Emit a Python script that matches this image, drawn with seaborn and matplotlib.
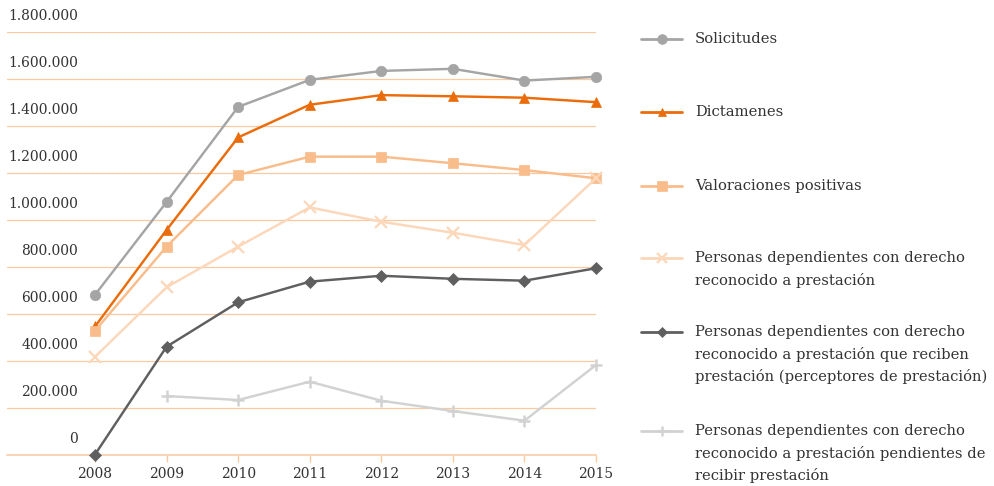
import numpy as np
import pandas as pd
import matplotlib
matplotlib.use("Agg")
import matplotlib.pyplot as plt
from matplotlib.lines import Line2D
from matplotlib.transforms import ScaledTranslation
import seaborn as sns

# ---- data -------------------------------------------------------------
years = [2008, 2009, 2010, 2011, 2012, 2013, 2014, 2015]

solicitudes = [680000, 1075000, 1480000, 1595000, 1633000, 1642000, 1592000, 1608000]
dictamenes = [545000, 956000, 1350000, 1489000, 1530000, 1525000, 1519000, 1500000]
valoraciones = [527000, 885000, 1190000, 1268000, 1268000, 1240000, 1211000, 1176000]
con_derecho = [416000, 712000, 885000, 1052000, 991000, 944000, 892000, 1176000]
perceptores = [0, 459000, 648000, 736000, 761000, 748000, 740000, 793000]
pendientes = [np.nan, 249000, 232000, 310000, 229000, 185000, 144000, 381000]

series_labels = [
    "Solicitudes",
    "Dictamenes",
    "Valoraciones positivas",
    "Personas dependientes con derecho\nreconocido a prestación",
    "Personas dependientes con derecho\nreconocido a prestación que reciben\nprestación (perceptores de prestación)",
    "Personas dependientes con derecho\nreconocido a prestación pendientes de\nrecibir prestación",
]
series_values = [solicitudes, dictamenes, valoraciones, con_derecho, perceptores, pendientes]

y_ticks = [0, 200000, 400000, 600000, 800000, 1000000, 1200000, 1400000, 1600000, 1800000]
y_tick_labels = [f"{v:,}".replace(",", ".") for v in y_ticks]

# ---- styling ----------------------------------------------------------
colors = ["#A5A5A5", "#EA6C0B", "#F9BC8B", "#FCD7BA", "#5F5F5F", "#D2D2D2"]
markers = ["o", "^", "s", "x", "D", "+"]
msizes = [7.5, 7.5, 7.5, 8, 6.5, 9]
mews = [0.5, 0.5, 0.5, 1.6, 0.5, 1.8]
legend_msizes = [7, 6, 7, 6.5, 5.5, 7.5]

grid_color = "#F9CAA2"
text_color = "#333333"

sns.set_style("white")
plt.rcParams["font.family"] = ["DejaVu Serif"]
plt.rcParams["font.size"] = 10

W, H = 995, 486
fig = plt.figure(figsize=(W / 100, H / 100), dpi=100)

def fx(px):
    return px / W

def fy(py):
    return 1 - py / H

ax_left, ax_right, ax_top, ax_bottom = 7, 596, 31.7, 454.5
ax = fig.add_axes([fx(ax_left), fy(ax_bottom), fx(ax_right - ax_left), (ax_bottom - ax_top) / H])

df = pd.DataFrame({"year": years})
for label, vals in zip(series_labels, series_values):
    df[label] = vals

for i, label in enumerate(series_labels):
    sub = df[["year", label]].dropna()
    sns.lineplot(
        data=sub, x="year", y=label, ax=ax, color=colors[i], linewidth=1.75,
        marker=markers[i], markersize=msizes[i], markeredgecolor=colors[i],
        markerfacecolor=colors[i], markeredgewidth=mews[i], legend=False,
        clip_on=False, zorder=3 + i,
    )

ax.set_xlim(years[0] - 1.23, years[-1])
ax.set_ylim(0, 1800000)
ax.set_xlabel("")
ax.set_ylabel("")

for s in ["top", "right", "left"]:
    ax.spines[s].set_visible(False)
ax.spines["bottom"].set_color(grid_color)
ax.spines["bottom"].set_linewidth(1.1)

ax.set_yticks(y_ticks)
ax.set_yticklabels(y_tick_labels)
ax.grid(axis="y", color=grid_color, linewidth=0.9)
ax.grid(axis="x", visible=False)
ax.set_axisbelow(True)

ax.set_xticks(years)
ax.set_xticklabels([str(y) for y in years])
ax.tick_params(axis="x", length=5, width=1, color=grid_color, pad=4,
               labelcolor=text_color, labelsize=10, direction="out", bottom=True)
ax.tick_params(axis="y", length=0, pad=-51.1, labelcolor=text_color, labelsize=10)

shift = ScaledTranslation(0, 17 / 100, fig.dpi_scale_trans)
for lab in ax.get_yticklabels():
    lab.set_transform(lab.get_transform() + shift)

# ---- legend -----------------------------------------------------------
legend_first_line = [39, 112, 186, 258, 332, 431]
line_gap = 22
for i, label in enumerate(series_labels):
    y0 = legend_first_line[i]
    handle = Line2D([fx(641), fx(682)], [fy(y0), fy(y0)], transform=fig.transFigure,
                    color=colors[i], linewidth=2.0)
    fig.add_artist(handle)
    fig.add_artist(Line2D([fx(661.5)], [fy(y0)], transform=fig.transFigure,
                          linestyle="none", marker=markers[i], markersize=legend_msizes[i],
                          markeredgecolor=colors[i], markerfacecolor=colors[i],
                          markeredgewidth=mews[i]))
    for j, line in enumerate(label.split("\n")):
        fig.text(fx(695), fy(y0 + j * line_gap), line, ha="left", va="center",
                 color=text_color, fontsize=10.6)

fig.savefig("out.png", dpi=100)
